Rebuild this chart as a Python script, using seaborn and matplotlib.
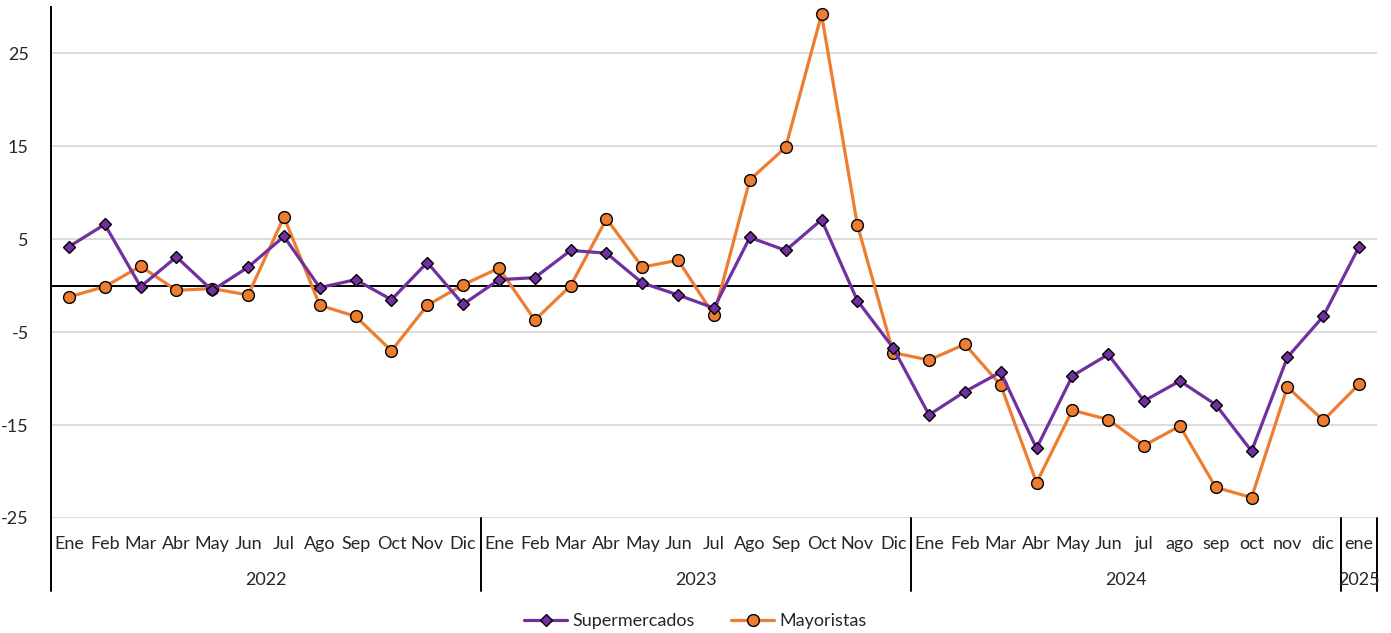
import matplotlib
matplotlib.use("Agg")
import matplotlib.pyplot as plt
import matplotlib.transforms as mtransforms
import seaborn as sns
import pandas as pd
import numpy as np

# --- data -------------------------------------------------------------
months = ["Ene", "Feb", "Mar", "Abr", "May", "Jun", "Jul", "Ago", "Sep", "Oct", "Nov", "Dic",
          "Ene", "Feb", "Mar", "Abr", "May", "Jun", "Jul", "Ago", "Sep", "Oct", "Nov", "Dic",
          "Ene", "Feb", "Mar", "Abr", "May", "Jun", "jul", "ago", "sep", "oct", "nov", "dic",
          "ene"]
years = ["2022", "2023", "2024", "2025"]
months_per_year = [12, 12, 12, 1]

supermercados = [4.2, 6.6, -0.1, 3.1, -0.5, 2.0, 5.3, -0.2, 0.65, -1.5, 2.5, -2.0,
                 0.65, 0.87, 3.8, 3.5, 0.3, -1.0, -2.4, 5.2, 3.8, 7.1, -1.6, -6.7,
                 -13.9, -11.4, -9.3, -17.5, -9.7, -7.4, -12.4, -10.25, -12.8, -17.8, -7.7, -3.3,
                 4.2]
mayoristas = [-1.2, -0.1, 2.1, -0.5, -0.3, -1.0, 7.4, -2.1, -3.3, -7.0, -2.1, 0.1,
              1.9, -3.7, 0.0, 7.2, 2.0, 2.75, -3.2, 11.4, 14.9, 29.2, 6.55, -7.2,
              -8.0, -6.3, -10.7, -21.2, -13.4, -14.4, -17.2, -15.1, -21.7, -22.8, -10.9, -14.5,
              -10.6]

df = pd.DataFrame({
    "pos": np.arange(len(months)),
    "Supermercados": supermercados,
    "Mayoristas": mayoristas,
})

# --- style ------------------------------------------------------------
sns.set_style("white")
plt.rcParams["font.family"] = ["Lato", "DejaVu Sans"]
text_color = "#262626"
purple = "#7030A0"
orange = "#ED7D31"
fs = 13

W, H = 1391, 633
fig = plt.figure(figsize=(W / 100, H / 100), dpi=100)
left, right, top, bottom = 51, 1377, 7, 518
ax = fig.add_axes([left / W, 1 - bottom / H, (right - left) / W, (bottom - top) / H])

sns.lineplot(data=df, x="pos", y="Supermercados", ax=ax, color=purple, linewidth=2.3,
             marker="D", markersize=6.5, markeredgecolor="black", markeredgewidth=1.0,
             markerfacecolor=purple, label="Supermercados", zorder=4)
sns.lineplot(data=df, x="pos", y="Mayoristas", ax=ax, color=orange, linewidth=2.3,
             marker="o", markersize=8.5, markeredgecolor="black", markeredgewidth=1.0,
             markerfacecolor=orange, label="Mayoristas", zorder=3)

ax.set_xlim(-0.5, len(months) - 0.5)
ax.set_ylim(-25, 30)
ax.set_yticks([-25, -15, -5, 5, 15, 25])
ax.set_yticklabels(["-25", "-15", "-5", "5", "15", "25"], fontsize=fs, color=text_color)
ax.tick_params(axis="y", length=0, pad=16)
ax.set_xticks([])
ax.set_xlabel("")
ax.set_ylabel("")
ax.grid(axis="y", color="#d9d9d9", linewidth=1.3)
ax.axhline(0, color="black", linewidth=1.4, zorder=2)
for side in ["top", "right", "bottom"]:
    ax.spines[side].set_visible(False)
ax.spines["left"].set_color("black")
ax.spines["left"].set_linewidth(1.4)

# --- two-level category axis -------------------------------------------
trans = mtransforms.blended_transform_factory(ax.transData, fig.transFigure)
y_month = 1 - 544 / H
y_year = 1 - 580 / H
y_sep_top = 1 - bottom / H
y_sep_bot = 1 - 591 / H

for i, m in enumerate(months):
    ax.text(i, y_month, m, transform=trans, ha="center", va="center",
            fontsize=fs, color=text_color)

start = 0
for yr, n in zip(years, months_per_year):
    ax.text(start + n / 2 - 0.5, y_year, yr, transform=trans, ha="center", va="center",
            fontsize=fs, color=text_color)
    start += n

bounds = np.cumsum([0] + months_per_year) - 0.5
for b in bounds:
    ax.plot([b, b], [y_sep_top, y_sep_bot], transform=trans, color="black",
            linewidth=1.4, clip_on=False)

# --- legend -----------------------------------------------------------
ax.legend(loc="center", bbox_to_anchor=(0.5, 1 - 621 / H), bbox_transform=fig.transFigure,
          ncol=2, frameon=False, fontsize=fs, handlelength=2.4, columnspacing=2.0,
          labelcolor=text_color, handletextpad=0.3)

fig.savefig("out.png", dpi=100)
